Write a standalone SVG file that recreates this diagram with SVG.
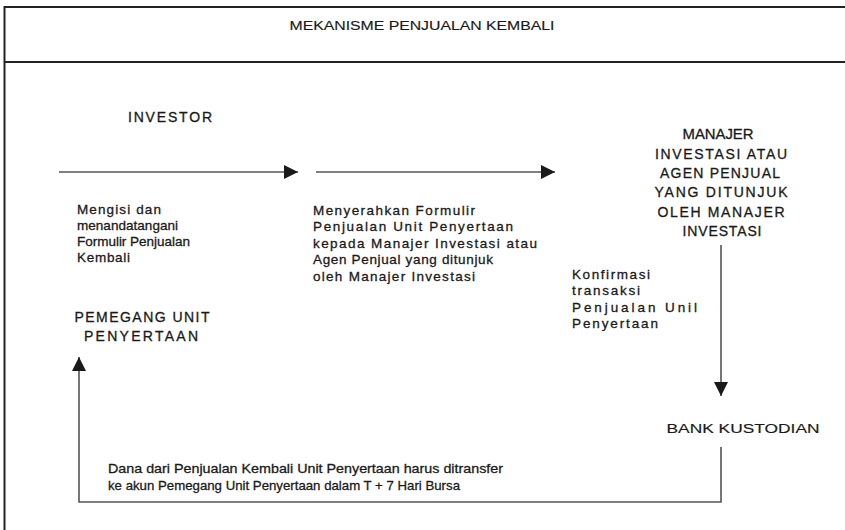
<svg xmlns="http://www.w3.org/2000/svg" width="845" height="530" viewBox="0 0 845 530">
<style>
text{font-family:"Liberation Sans",Arial,sans-serif;fill:#1a1a1a;stroke:#1a1a1a;stroke-width:0.3}
.h{font-size:14px}
.b{font-size:13.5px}
.t{font-size:13px;stroke-width:0.15}
.c{stroke:#555;stroke-width:1.6;fill:none}
.f{stroke:#222;stroke-width:2;fill:none}
</style>
<defs>
<marker id="ah" markerUnits="userSpaceOnUse" markerWidth="14" markerHeight="14" viewBox="0 0 12 12" refX="12" refY="6" orient="auto">
<path d="M0,0 L12,6 L0,12 Z" fill="#1a1a1a"/>
</marker>
</defs>
<rect width="845" height="530" fill="#fff"/>
<g id="frame">
<path class="f" d="M4.5,530 V7 H850"/>
<path class="f" d="M4.5,62 H850"/>
</g>
<g id="title"><text class="t" x="422" y="30" text-anchor="middle" textLength="265" lengthAdjust="spacingAndGlyphs">MEKANISME PENJUALAN KEMBALI</text></g>
<g id="investor"><text class="h" x="170" y="122" text-anchor="middle" textLength="84" lengthAdjust="spacing">INVESTOR</text></g>
<g id="pemegang">
<text class="h" x="142" y="322" text-anchor="middle" textLength="135" lengthAdjust="spacing">PEMEGANG UNIT</text>
<text class="h" x="141" y="341" text-anchor="middle" textLength="114" lengthAdjust="spacing">PENYERTAAN</text>
</g>
<g id="manajer">
<text class="h" x="718" y="139" text-anchor="middle" textLength="71" lengthAdjust="spacingAndGlyphs">MANAJER</text>
<text class="h" x="721" y="158.5" text-anchor="middle" textLength="132" lengthAdjust="spacing">INVESTASI ATAU</text>
<text class="h" x="720" y="178" text-anchor="middle" textLength="120" lengthAdjust="spacing">AGEN PENJUAL</text>
<text class="h" x="721" y="197" text-anchor="middle" textLength="133" lengthAdjust="spacing">YANG DITUNJUK</text>
<text class="h" x="721" y="216.5" text-anchor="middle" textLength="127" lengthAdjust="spacing">OLEH MANAJER</text>
<text class="h" x="722" y="235.5" text-anchor="middle" textLength="79" lengthAdjust="spacing">INVESTASI</text>
</g>
<g id="bank"><text class="t" x="743" y="433" text-anchor="middle" textLength="153" lengthAdjust="spacingAndGlyphs">BANK KUSTODIAN</text></g>
<g id="connectors">
<line class="c" x1="59" y1="172" x2="298" y2="172" marker-end="url(#ah)"/>
<line class="c" x1="316" y1="172" x2="555" y2="172" marker-end="url(#ah)"/>
<line class="c" x1="721" y1="245" x2="721" y2="396" marker-end="url(#ah)"/>
<path class="c" d="M721,447 V502 H79 V357" marker-end="url(#ah)"/>
</g>
<g id="labels">
<text class="b" x="77" y="214" textLength="84" lengthAdjust="spacing">Mengisi dan</text>
<text class="b" x="77" y="230" textLength="101" lengthAdjust="spacing">menandatangani</text>
<text class="b" x="77" y="246" textLength="113" lengthAdjust="spacing">Formulir Penjualan</text>
<text class="b" x="77" y="262" textLength="53" lengthAdjust="spacing">Kembali</text>
<text class="b" x="313" y="214.5" textLength="162" lengthAdjust="spacing">Menyerahkan Formulir</text>
<text class="b" x="313" y="231" textLength="200" lengthAdjust="spacing">Penjualan Unit Penyertaan</text>
<text class="b" x="313" y="247.5" textLength="224" lengthAdjust="spacing">kepada Manajer Investasi atau</text>
<text class="b" x="313" y="264" textLength="180" lengthAdjust="spacing">Agen Penjual yang ditunjuk</text>
<text class="b" x="313" y="280.5" textLength="162" lengthAdjust="spacing">oleh Manajer Investasi</text>
<text class="b" x="572" y="278.5" textLength="78" lengthAdjust="spacing">Konfirmasi</text>
<text class="b" x="572" y="295" textLength="68" lengthAdjust="spacing">transaksi</text>
<text class="b" x="572" y="311.5" textLength="125" lengthAdjust="spacing">Penjualan Unil</text>
<text class="b" x="572" y="328" textLength="86" lengthAdjust="spacing">Penyertaan</text>
<text class="b" x="108" y="473" textLength="395" lengthAdjust="spacingAndGlyphs">Dana dari Penjualan Kembali Unit Penyertaan harus ditransfer</text>
<text class="b" x="108" y="490" textLength="352" lengthAdjust="spacingAndGlyphs">ke akun Pemegang Unit Penyertaan dalam T + 7 Hari Bursa</text>
</g>
</svg>
